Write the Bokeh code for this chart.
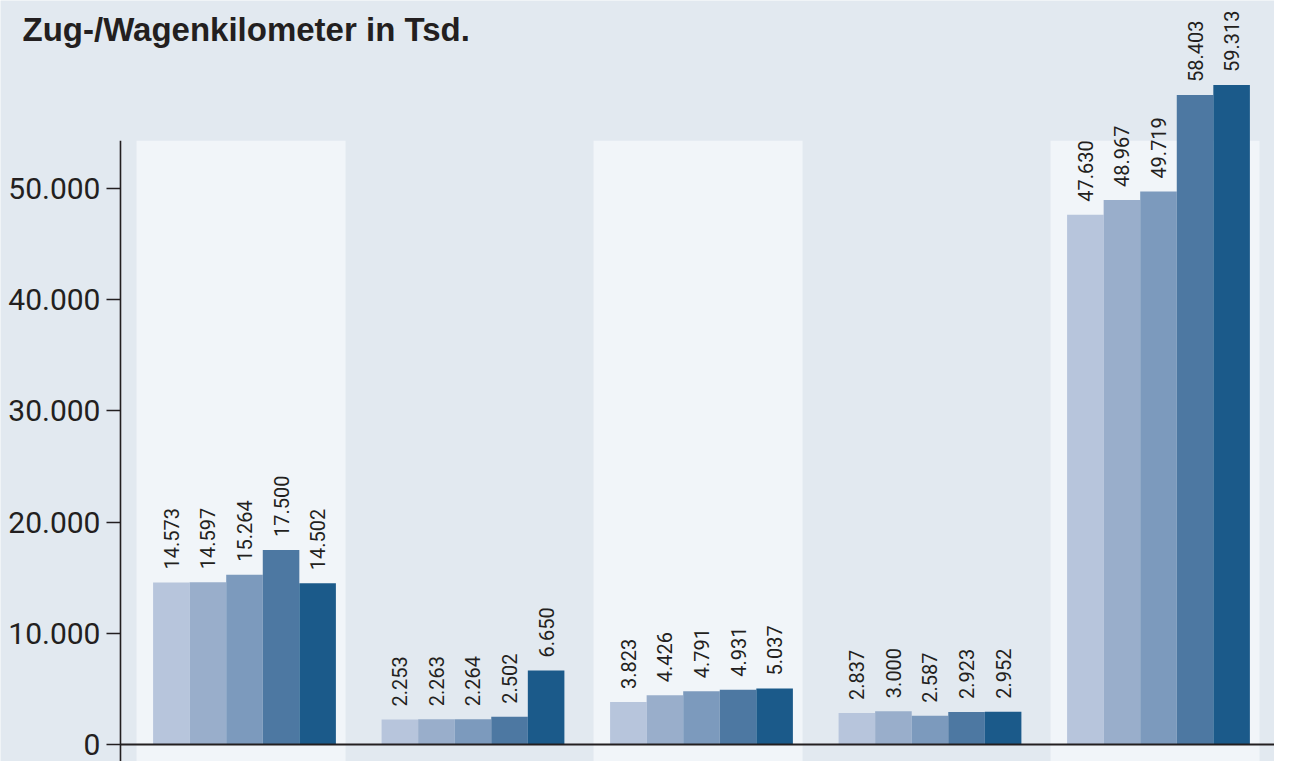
import numpy as np
from bokeh.plotting import figure
from bokeh.models import ColumnDataSource, Range1d, FixedTicker, Span, Label
from bokeh.core.properties import value
from bokeh.embed import file_html
from bokeh.resources import INLINE

# ---------------- data ----------------
groups = ["Gruppe 1", "Gruppe 2", "Gruppe 3", "Gruppe 4", "Gruppe 5"]
series = ["Jahr 1", "Jahr 2", "Jahr 3", "Jahr 4", "Jahr 5"]
g1 = [14573, 14597, 15264, 17500, 14502]
g2 = [2253, 2263, 2264, 2502, 6650]
g3 = [3823, 4426, 4791, 4931, 5037]
g4 = [2837, 3000, 2587, 2923, 2952]
g5 = [47630, 48967, 49719, 58403, 59313]
y_ticks = [0, 10000, 20000, 30000, 40000, 50000]
y_tick_labels = ["0", "10.000", "20.000", "30.000", "40.000", "50.000"]
title_text = "Zug-/Wagenkilometer in Tsd."

# ---------------- style ----------------
bg = "#e2e9f0"
band = "#f1f5f9"
colors = ["#b7c5dc", "#99aecb", "#7c9abd", "#4d78a2", "#1b5a8a"]
ink = "#231f20"
font = "Roboto"

all_vals = [g1, g2, g3, g4, g5]
bar_w = 0.16
X0, X1 = -1.0678, 4.5077
XA = -0.5427           # where the value axis sits
Y0, Y1 = -1529, 66906
band_top = 54300

xs, tops, cols, labs = [], [], [], []
for i, vals in enumerate(all_vals):
    for j, v in enumerate(vals):
        xs.append(i + (j - 2) * bar_w)
        tops.append(v)
        cols.append(colors[j])
        labs.append(f"{v:,}".replace(",", "."))
src = ColumnDataSource(dict(x=xs, top=tops, color=cols, label=labs))

p = figure(width=1274, height=761, output_backend="svg", toolbar_location=None,
           x_range=Range1d(X0, X1), y_range=Range1d(Y0, Y1),
           min_border_left=0, min_border_right=0, min_border_top=0, min_border_bottom=0,
           background_fill_color=bg, border_fill_color=bg, outline_line_color=None)

# light bands behind groups 1, 3, 5
band_x = [i - 0.015 for i in range(len(groups)) if i % 2 == 0]
p.vbar(x=band_x, width=0.915, bottom=Y0 - 2000, top=band_top, color=band, line_color=None)

p.vbar(x="x", top="top", bottom=0, width=bar_w, color="color", line_color=None, source=src)

p.text(x="x", y="top", text="label", source=src, angle=np.pi / 2, y_offset=-13,
       text_align="left", text_baseline="middle", text_font=value(font),
       text_font_size="20px", text_color=ink)

# axis lines
p.segment(x0=[XA], y0=[Y0 - 2000], x1=[XA], y1=[band_top],
          line_width=1.6, line_color=ink)
p.segment(x0=[XA], y0=[0], x1=[X1 + 1], y1=[0], line_width=2, line_color=ink)

p.xaxis.visible = False
p.xgrid.visible = False
p.ygrid.visible = False
ax = p.yaxis[0]
ax.fixed_location = XA
ax.ticker = FixedTicker(ticks=y_ticks)
ax.major_label_overrides = {t: l for t, l in zip(y_ticks, y_tick_labels)}
ax.axis_line_color = None
ax.major_tick_out = 14
ax.major_tick_in = 0
ax.major_tick_line_color = ink
ax.major_tick_line_width = 1.5
ax.minor_tick_line_color = None
ax.major_label_standoff = 6
ax.major_label_text_font = font
ax.major_label_text_font_size = "30px"
ax.major_label_text_color = ink

p.add_layout(Label(x=22, y=732, x_units="screen", y_units="screen",
                   text=title_text, text_font="Liberation Sans",
                   text_font_style="bold", text_font_size="33px", text_color=ink,
                   text_baseline="alphabetic"))

open("out.html", "w").write(file_html(p, INLINE))
